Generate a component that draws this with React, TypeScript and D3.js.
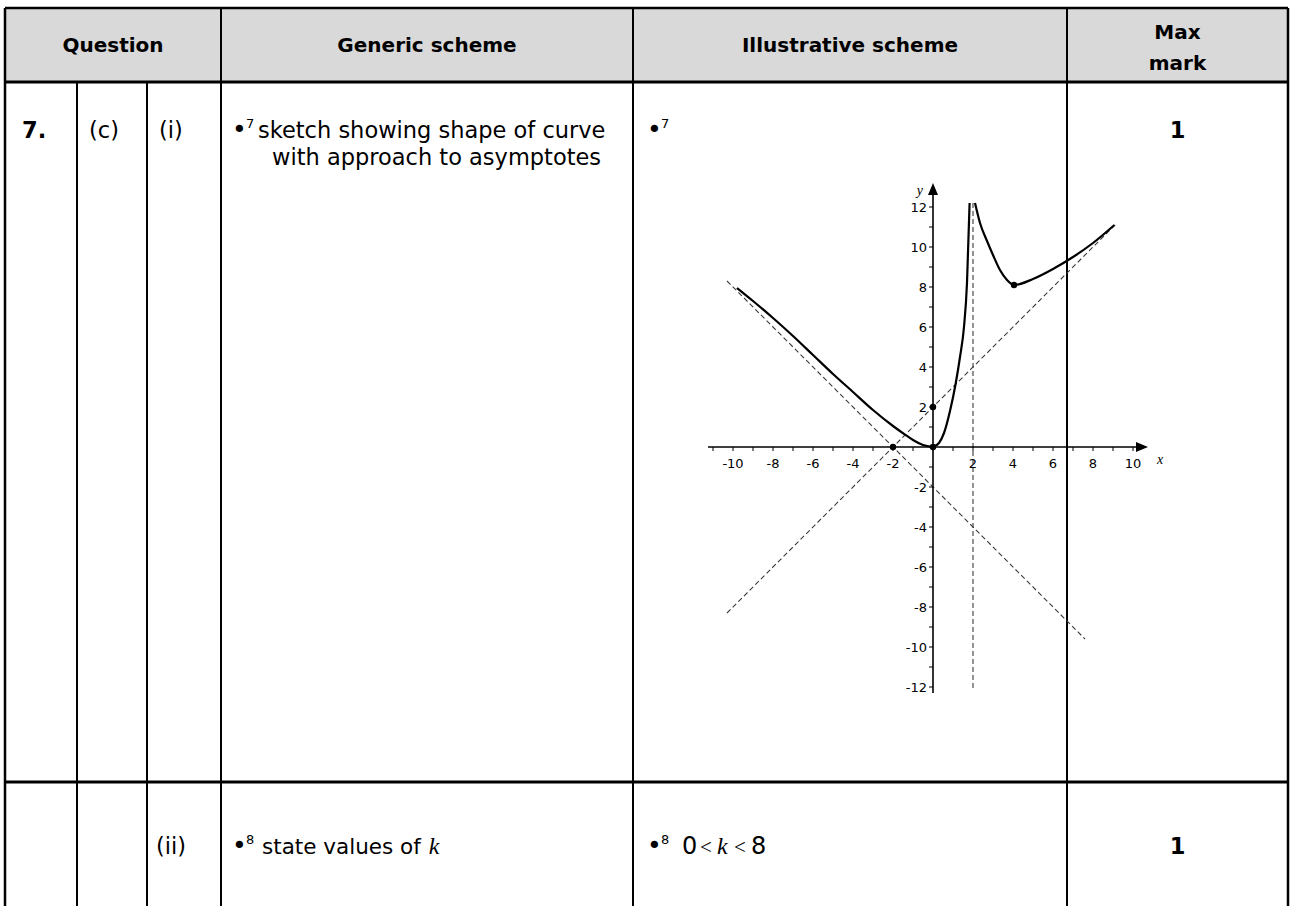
import React from 'react';
import * as d3 from 'd3';

// table layout
const colEdges = [5, 77, 147, 221, 633, 1067, 1288];
const rowEdges = [8, 82, 782, 920];

const headers = ['Question', 'Generic scheme', 'Illustrative scheme'];

// curve, [x, y]
const leftBranch: [number, number][] = [
  [-9.8, 7.95], [-9, 7.3], [-8, 6.45], [-7, 5.55], [-6, 4.6], [-5, 3.65],
  [-4, 2.75], [-3, 1.85], [-2, 1.05], [-1.4, 0.62], [-1, 0.35], [-0.5, 0.1], [0, 0],
];
const middleBranch: [number, number][] = [
  [0, 0], [0.3, 0.2], [0.55, 0.7], [0.85, 1.8], [1.13, 3.15], [1.35, 4.5],
  [1.55, 6.0], [1.7, 8.2], [1.83, 12.2],
];
const rightBranch: [number, number][] = [
  [2.1, 12.2], [2.35, 11.2], [2.68, 10.35], [3.0, 9.6], [3.35, 8.85], [3.7, 8.35],
  [4.05, 8.1], [5, 8.4], [6, 8.9], [7, 9.5], [8, 10.2], [9.07, 11.1],
];

const asymptotes: [number, number][][] = [
  [[-10.3, -8.3], [9.2, 11.2]],
  [[-10.3, 8.3], [7.6, -9.6]],
  [[2, 12.2], [2, -12.1]],
];

const points: [number, number][] = [[0, 0], [0, 2], [-2, 0], [4.05, 8.1]];

const xMinor = d3.range(-11, 11);
const yMinor = d3.range(-12, 13);
const xLabels = [-10, -8, -6, -4, -2, 2, 4, 6, 8, 10];
const yLabels = [-12, -10, -8, -6, -4, -2, 2, 4, 6, 8, 10, 12];

const sans = "'DejaVu Sans', sans-serif";
const serif = "'Liberation Serif', 'DejaVu Serif', serif";
const hfs = 20;
const fs = 22.5;

const Graph = () => {
  const x = d3.scaleLinear().domain([-10, 10]).range([733, 1133]);
  const y = d3.scaleLinear().domain([-12, 12]).range([687, 207]);
  const straight = d3.line<[number, number]>()
    .x(d => x(d[0]))
    .y(d => y(d[1]));
  const smooth = d3.line<[number, number]>()
    .x(d => x(d[0]))
    .y(d => y(d[1]))
    .curve(d3.curveMonotoneX);
  const x0 = x(0);
  const y0 = y(0);
  return (
    <g>
      {asymptotes.map((a, i) => (
        <path key={i} d={straight(a) || ''} fill="none" stroke="#3a3a3a" strokeWidth={1.1} strokeDasharray="5 3" />
      ))}
      {/* axes */}
      <line x1={x(-11.25)} x2={x(10.5)} y1={y0} y2={y0} stroke="#000" strokeWidth={1.6} />
      <path d={`M${x(10.75)},${y0} l-12,-5 l0,10 z`} fill="#000" />
      <line x1={x0} x2={x0} y1={y(-12.3)} y2={y(12.8)} stroke="#000" strokeWidth={1.6} />
      <path d={`M${x0},${y(13.2)} l-5,12 l10,0 z`} fill="#000" />
      {xMinor.map(v => (
        <line key={v} x1={x(v)} x2={x(v)} y1={y0} y2={y0 + 4} stroke="#000" strokeWidth={1} />
      ))}
      {yMinor.map(v => (
        <line key={v} x1={x0 - 4} x2={x0} y1={y(v)} y2={y(v)} stroke="#000" strokeWidth={1} />
      ))}
      {xLabels.map(v => (
        <text key={v} x={x(v)} y={y0 + 21} textAnchor="middle" fontFamily={sans} fontSize={13}>{v}</text>
      ))}
      {yLabels.map(v => (
        <text key={v} x={x0 - 6} y={y(v) + 5} textAnchor="end" fontFamily={sans} fontSize={13}>{v}</text>
      ))}
      <text x={x0 - 10} y={y(12.6)} fontFamily={serif} fontStyle="italic" fontSize={14} textAnchor="end">y</text>
      <text x={x(11.2)} y={y0 + 17} fontFamily={serif} fontStyle="italic" fontSize={14}>x</text>
      {[leftBranch, middleBranch, rightBranch].map((b, i) => (
        <path key={i} d={smooth(b) || ''} fill="none" stroke="#000" strokeWidth={2.2} />
      ))}
      {points.map((p, i) => (
        <circle key={i} cx={x(p[0])} cy={y(p[1])} r={3.2} fill="#000" />
      ))}
    </g>
  );
};

const Bullet = ({ x, y, n }: { x: number; y: number; n: string }) => (
  <g fontFamily={sans}>
    <text x={x - 1} y={y} fontSize={25}>•</text>
    <text x={x + 13} y={y - 10} fontSize={13}>{n}</text>
  </g>
);

export default function App() {
  const [c0, c1, c2, c3, c4, c5, c6] = colEdges;
  const [r0, r1, r2, r3] = rowEdges;
  return (
    <svg width={1293} height={906} style={{ position: 'absolute', left: 0, top: 0, background: '#fff' }}>
      <rect x={c0} y={r0} width={c6 - c0} height={r1 - r0} fill="#d9d9d9" />
      {/* horizontal rules */}
      <line x1={c0} x2={c6} y1={r0} y2={r0} stroke="#000" strokeWidth={2.5} />
      <line x1={c0} x2={c6} y1={r1} y2={r1} stroke="#000" strokeWidth={3} />
      <line x1={c0} x2={c6} y1={r2} y2={r2} stroke="#000" strokeWidth={3} />
      {/* vertical rules */}
      {[c0, c6].map(c => (
        <line key={c} x1={c} x2={c} y1={r0} y2={r3} stroke="#000" strokeWidth={2.5} />
      ))}
      {[c3, c4, c5].map(c => (
        <line key={c} x1={c} x2={c} y1={r0} y2={r3} stroke="#000" strokeWidth={2} />
      ))}
      {[c1, c2].map(c => (
        <line key={c} x1={c} x2={c} y1={r1} y2={r3} stroke="#000" strokeWidth={2} />
      ))}

      {/* header */}
      <g fontFamily={sans} fontWeight="bold" fontSize={hfs} textAnchor="middle">
        <text x={(c0 + c3) / 2} y={52}>{headers[0]}</text>
        <text x={(c3 + c4) / 2} y={52}>{headers[1]}</text>
        <text x={(c4 + c5) / 2} y={52}>{headers[2]}</text>
        <text x={(c5 + c6) / 2} y={39}>Max</text>
        <text x={(c5 + c6) / 2} y={70}>mark</text>
      </g>

      {/* row (i) */}
      <g fontFamily={sans} fontSize={fs}>
        <text x={22} y={138} fontWeight="bold">7.</text>
        <text x={89} y={138}>(c)</text>
        <text x={159} y={138}>(i)</text>
        <text x={258} y={138}>sketch showing shape of curve</text>
        <text x={272} y={165}>with approach to asymptotes</text>
        <text x={(c5 + c6) / 2} y={138} fontWeight="bold" textAnchor="middle">1</text>
      </g>
      <Bullet x={233} y={138} n="7" />
      <Bullet x={648} y={138} n="7" />

      {/* row (ii) */}
      <g fontFamily={sans} fontSize={fs}>
        <text x={156} y={854}>(ii)</text>
        <text x={262} y={854} fontSize={21.5}>
          state values of
          <tspan dx={8} fontFamily={serif} fontStyle="italic" fontSize={24}>k</tspan>
        </text>
        <text x={682} y={854} fontSize={24}>0</text>
        <text x={700} y={854} fontFamily={serif} fontSize={21}>&lt;</text>
        <text x={717} y={854} fontFamily={serif} fontStyle="italic" fontSize={24}>k</text>
        <text x={734} y={854} fontFamily={serif} fontSize={21}>&lt;</text>
        <text x={751} y={854} fontSize={24}>8</text>
        <text x={(c5 + c6) / 2} y={854} fontWeight="bold" textAnchor="middle">1</text>
      </g>
      <Bullet x={233} y={854} n="8" />
      <Bullet x={648} y={854} n="8" />

      <Graph />
    </svg>
  );
}
